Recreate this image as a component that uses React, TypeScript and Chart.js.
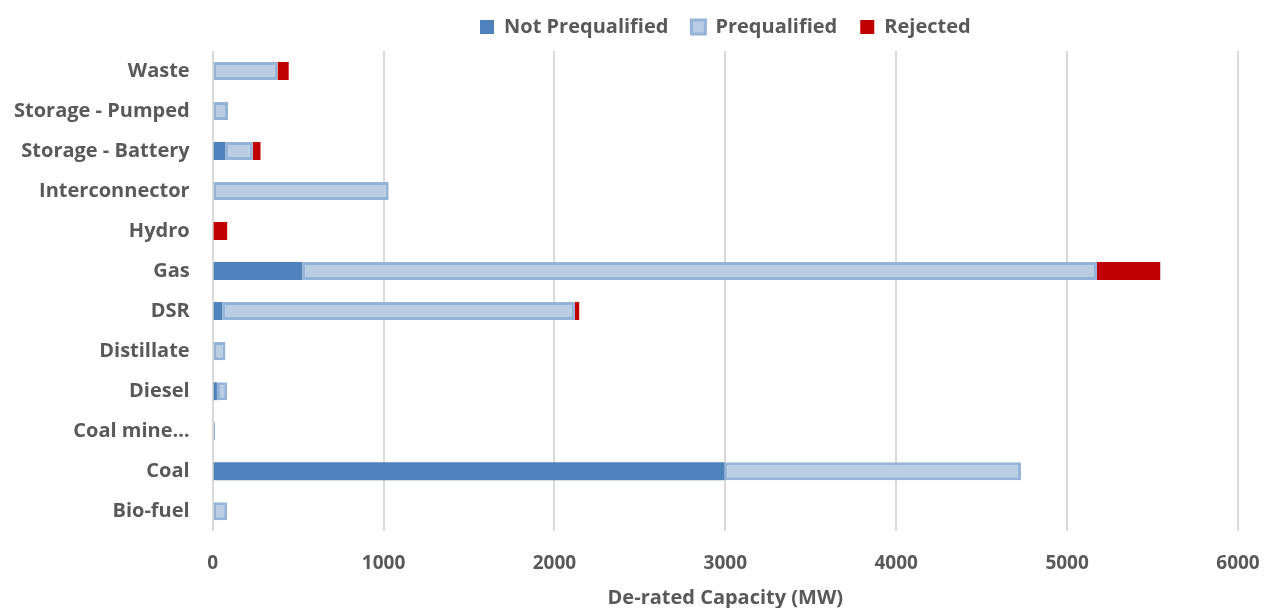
import React, { useEffect, useRef } from "react";
import { Chart, registerables } from "chart.js";

Chart.register(...registerables);

const categories = [
  "Waste",
  "Storage - Pumped",
  "Storage - Battery",
  "Interconnector",
  "Hydro",
  "Gas",
  "DSR",
  "Distillate",
  "Diesel",
  "Coal mine…",
  "Coal",
  "Bio-fuel",
];

const notPrequalified = [0, 0, 75, 0, 0, 525, 55, 0, 25, 0, 2995, 0];
const prequalified = [380, 90, 160, 1030, 0, 4650, 2065, 75, 60, 15, 1735, 85];
const rejected = [65, 0, 45, 0, 85, 370, 25, 0, 0, 0, 0, 0];

const xTicks = [0, 1000, 2000, 3000, 4000, 5000, 6000];

const FONT = "'Open Sans', Lato, sans-serif";
const GREY = "#595959";

const legendTweaks = {
  id: "legendTweaks",
  beforeLayout(chart: any) {
    const lg = chart.legend;
    if (lg && !lg.__patched) {
      const orig = lg.fit;
      lg.fit = function () {
        orig.call(this);
        this.height += 4;
      };
      lg.__patched = true;
    }
  },
  beforeDraw(chart: any) {
    const lg = chart.legend;
    if (lg && chart.chartArea) {
      lg.left = chart.chartArea.left;
      lg.right = chart.chartArea.right;
    }
  },
};

export default function App() {
  const ref = useRef<HTMLCanvasElement | null>(null);

  useEffect(() => {
    if (!ref.current) return;
    const chart = new Chart(ref.current, {
      type: "bar",
      data: {
        labels: categories,
        datasets: [
          {
            label: "Not Prequalified",
            data: notPrequalified,
            backgroundColor: "#4f81bd",
            borderColor: "#4f81bd",
            borderWidth: 0,
          },
          {
            label: "Prequalified",
            data: prequalified,
            backgroundColor: "#b9cde5",
            borderColor: "#95b3d7",
            borderWidth: 3,
            borderSkipped: false,
          },
          {
            label: "Rejected",
            data: rejected,
            backgroundColor: "#c00000",
            borderColor: "#c00000",
            borderWidth: 0,
          },
        ],
      },
      plugins: [legendTweaks],
      options: {
        indexAxis: "y",
        animation: false,
        responsive: true,
        maintainAspectRatio: false,
        layout: { padding: { left: -9, right: 28, top: -6, bottom: -2 } },
        datasets: {
          bar: { categoryPercentage: 1, barPercentage: 0.45 },
        },
        plugins: {
          legend: {
            position: "top",
            labels: {
              color: GREY,
              font: { family: FONT, size: 20, weight: "bold" },
              boxWidth: 14,
              boxHeight: 14,
              padding: 23,
            },
          },
          tooltip: { enabled: false },
        },
        scales: {
          x: {
            stacked: true,
            min: 0,
            max: 6000,
            afterBuildTicks: (axis: any) => {
              axis.ticks = xTicks.map((v) => ({ value: v }));
            },
            afterFit: (scale: any) => {
              scale.paddingRight = 0;
            },
            grid: { color: "#d9d9d9", lineWidth: 2, drawTicks: false },
            border: { display: false },
            ticks: {
              color: GREY,
              font: { family: FONT, size: 19, weight: "bold" },
              padding: 21,
              callback: (v: any) => String(v),
            },
            title: {
              display: true,
              text: "De-rated Capacity (MW)",
              color: GREY,
              font: { family: FONT, size: 20, weight: "bold" },
              padding: { top: -10, bottom: 0 },
            },
          },
          y: {
            stacked: true,
            grid: { display: false, drawTicks: false },
            border: { display: false },
            ticks: {
              color: GREY,
              font: { family: FONT, size: 20, weight: "bold" },
              padding: 23,
            },
          },
        },
      },
    });
    return () => chart.destroy();
  }, []);

  return (
    <div style={{ position: "fixed", left: 0, top: 0, width: 1266, height: 608, background: "#fff" }}>
      <canvas ref={ref} />
    </div>
  );
}
